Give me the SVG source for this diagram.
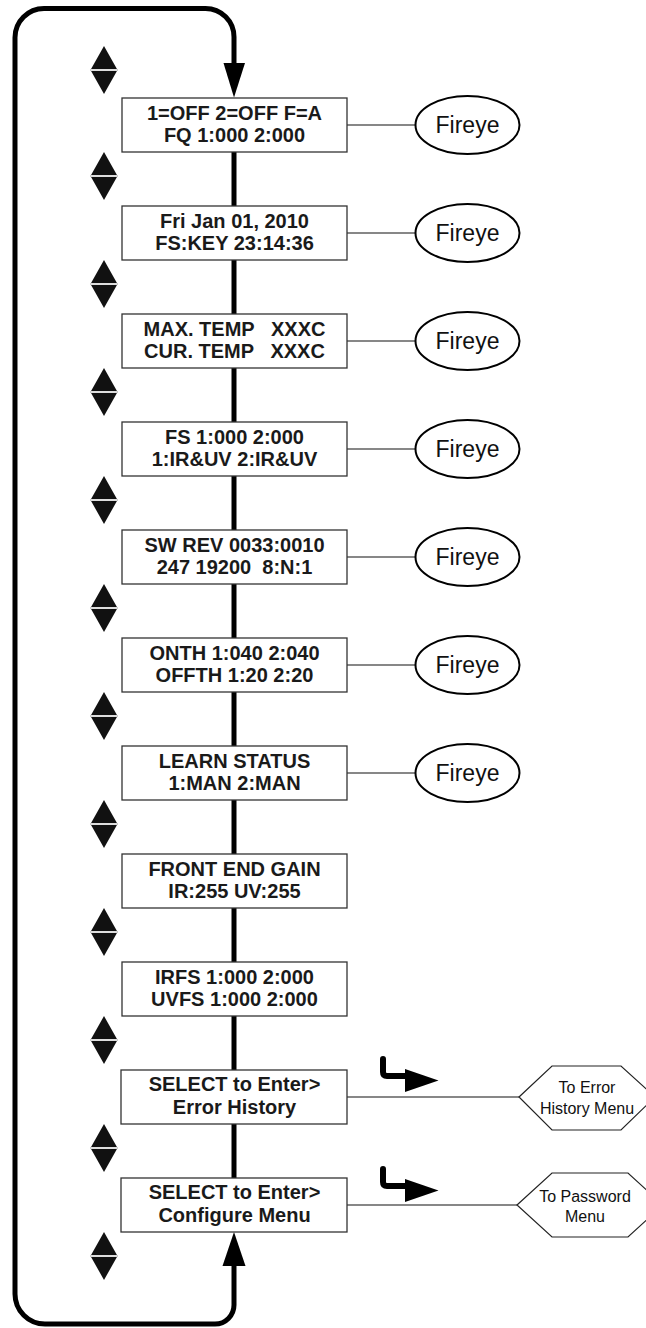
<svg xmlns="http://www.w3.org/2000/svg" xmlns:xlink="http://www.w3.org/1999/xlink" width="646" height="1328" viewBox="0 0 646 1328">
<style>
.box{fill:#fff;stroke:#333;stroke-width:1.3}
.bt{font-family:"Liberation Sans",Arial,sans-serif;font-weight:bold;font-size:20px;fill:#1a1a1a;text-anchor:middle;white-space:pre}
.ell{fill:#fff;stroke:#000;stroke-width:2}
.et{font-family:"Liberation Sans",Arial,sans-serif;font-size:23px;fill:#111;text-anchor:middle}
.hex{fill:#fff;stroke:#222;stroke-width:1.2}
.ht{font-family:"Liberation Sans",Arial,sans-serif;font-size:16px;fill:#111;text-anchor:middle}
.thin{stroke:#111;stroke-width:1.2;fill:none}
.thick{stroke:#000;stroke-width:5;fill:none}
.bend{stroke:#000;stroke-width:6;fill:none;stroke-linecap:round;stroke-linejoin:round}
</style>
<defs>
<g id="updown">
<polygon points="0,-24 13.5,0 -13.5,0" fill="#111"/>
<polygon points="-13.5,0 13.5,0 0,24" fill="#111"/>
<line x1="-13" y1="0" x2="13" y2="0" stroke="#ddd" stroke-width="2"/>
</g>
</defs>
<rect width="646" height="1328" fill="#fff"/>
<g id="connectors">
<path class="thick" d="M234,63 V37 A28.5,28.5 0 0 0 205.5,8.5 H44 A29,29 0 0 0 15,37.5 V1294 A30,30 0 0 0 45,1324 H215 A19,19 0 0 0 234,1305 V1266"/>
<polygon points="223.5,63 245,63 234,97.5" fill="#000"/>
<polygon points="222.5,1266 245.5,1266 234,1232" fill="#000"/>
<line class="thick" x1="234" y1="150" x2="234" y2="1180"/>
<line class="thin" x1="347" y1="125" x2="415.5" y2="125"/>
<line class="thin" x1="347" y1="233" x2="415.5" y2="233"/>
<line class="thin" x1="347" y1="341" x2="415.5" y2="341"/>
<line class="thin" x1="347" y1="449" x2="415.5" y2="449"/>
<line class="thin" x1="347" y1="557" x2="415.5" y2="557"/>
<line class="thin" x1="347" y1="665" x2="415.5" y2="665"/>
<line class="thin" x1="347" y1="773" x2="415.5" y2="773"/>
<line class="thin" x1="347" y1="1097" x2="519" y2="1097"/>
<line class="thin" x1="347" y1="1205" x2="517" y2="1205"/>
<path class="bend" d="M383,1059 V1072 Q383,1076 387,1076 H406"/>
<polygon points="405,1069 438.5,1080.5 405,1092" fill="#000"/>
<path class="bend" d="M383,1169 V1182 Q383,1186 387,1186 H406"/>
<polygon points="405,1179 438.5,1190.5 405,1202" fill="#000"/>
</g>
<g id="updown-arrows">
<use xlink:href="#updown" x="104" y="70"/>
<use xlink:href="#updown" x="104" y="176"/>
<use xlink:href="#updown" x="104" y="284"/>
<use xlink:href="#updown" x="104" y="392"/>
<use xlink:href="#updown" x="104" y="500"/>
<use xlink:href="#updown" x="104" y="608"/>
<use xlink:href="#updown" x="104" y="716"/>
<use xlink:href="#updown" x="104" y="824"/>
<use xlink:href="#updown" x="104" y="932"/>
<use xlink:href="#updown" x="104" y="1040"/>
<use xlink:href="#updown" x="104" y="1148"/>
<use xlink:href="#updown" x="104" y="1256"/>
</g>
<g id="n1"><rect class="box" x="122" y="98" width="225" height="54"/><text class="bt" x="234.5" y="120">1=OFF 2=OFF F=A</text><text class="bt" x="234.5" y="142">FQ 1:000 2:000</text></g>
<g id="n2"><rect class="box" x="122" y="206" width="225" height="54"/><text class="bt" x="234.5" y="228">Fri Jan 01, 2010</text><text class="bt" x="234.5" y="250">FS:KEY 23:14:36</text></g>
<g id="n3"><rect class="box" x="122" y="314" width="225" height="54"/><text class="bt" x="234.5" y="336">MAX. TEMP   XXXC</text><text class="bt" x="234.5" y="358">CUR. TEMP   XXXC</text></g>
<g id="n4"><rect class="box" x="122" y="422" width="225" height="54"/><text class="bt" x="234.5" y="444">FS 1:000 2:000</text><text class="bt" x="234.5" y="466">1:IR&amp;UV 2:IR&amp;UV</text></g>
<g id="n5"><rect class="box" x="122" y="530" width="225" height="54"/><text class="bt" x="234.5" y="552">SW REV 0033:0010</text><text class="bt" x="234.5" y="574">247 19200  8:N:1</text></g>
<g id="n6"><rect class="box" x="122" y="638" width="225" height="54"/><text class="bt" x="234.5" y="660">ONTH 1:040 2:040</text><text class="bt" x="234.5" y="682">OFFTH 1:20 2:20</text></g>
<g id="n7"><rect class="box" x="122" y="746" width="225" height="54"/><text class="bt" x="234.5" y="768">LEARN STATUS</text><text class="bt" x="234.5" y="790">1:MAN 2:MAN</text></g>
<g id="n8"><rect class="box" x="122" y="854" width="225" height="54"/><text class="bt" x="234.5" y="876">FRONT END GAIN</text><text class="bt" x="234.5" y="898">IR:255 UV:255</text></g>
<g id="n9"><rect class="box" x="122" y="962" width="225" height="54"/><text class="bt" x="234.5" y="984">IRFS 1:000 2:000</text><text class="bt" x="234.5" y="1006">UVFS 1:000 2:000</text></g>
<g id="n10"><rect class="box" x="121" y="1070" width="226" height="54"/><text class="bt" x="234.5" y="1091">SELECT to Enter&gt;</text><text class="bt" x="234.5" y="1114">Error History</text></g>
<g id="n11"><rect class="box" x="121" y="1178" width="226" height="54"/><text class="bt" x="234.5" y="1199">SELECT to Enter&gt;</text><text class="bt" x="234.5" y="1222">Configure Menu</text></g>
<g id="f1"><ellipse class="ell" cx="467.5" cy="125" rx="52" ry="29"/><text class="et" x="467.5" y="133">Fireye</text></g>
<g id="f2"><ellipse class="ell" cx="467.5" cy="233" rx="52" ry="29"/><text class="et" x="467.5" y="241">Fireye</text></g>
<g id="f3"><ellipse class="ell" cx="467.5" cy="341" rx="52" ry="29"/><text class="et" x="467.5" y="349">Fireye</text></g>
<g id="f4"><ellipse class="ell" cx="467.5" cy="449" rx="52" ry="29"/><text class="et" x="467.5" y="457">Fireye</text></g>
<g id="f5"><ellipse class="ell" cx="467.5" cy="557" rx="52" ry="29"/><text class="et" x="467.5" y="565">Fireye</text></g>
<g id="f6"><ellipse class="ell" cx="467.5" cy="665" rx="52" ry="29"/><text class="et" x="467.5" y="673">Fireye</text></g>
<g id="f7"><ellipse class="ell" cx="467.5" cy="773" rx="52" ry="29"/><text class="et" x="467.5" y="781">Fireye</text></g>
<g id="h1"><polygon class="hex" points="519,1097 552,1066 621,1066 655,1097 621,1130 552,1130"/><text class="ht" x="587" y="1093">To Error</text><text class="ht" x="587" y="1113.5">History Menu</text></g>
<g id="h2"><polygon class="hex" points="517,1205 552,1173 628,1173 663,1205 628,1237 552,1237"/><text class="ht" x="585" y="1201.5">To Password</text><text class="ht" x="585" y="1222">Menu</text></g>
</svg>
